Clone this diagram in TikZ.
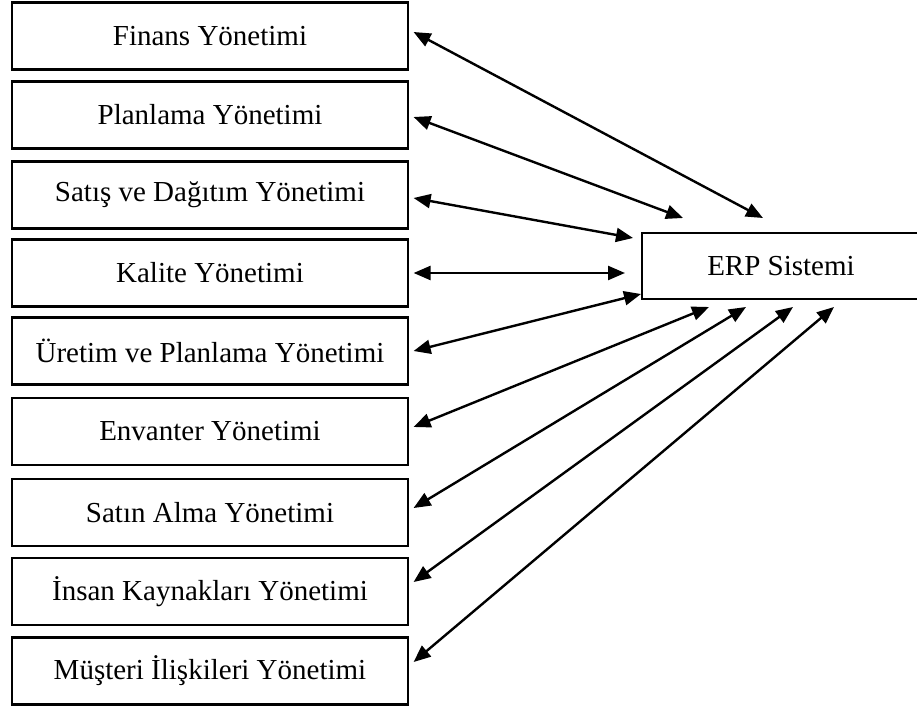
\documentclass[tikz,border=0pt]{standalone}
\usepackage{fontspec}
\setmainfont{Liberation Serif}
\usetikzlibrary{arrows.meta}
\begin{document}
\begin{tikzpicture}[x=0.5pt,y=-0.5pt,
  module/.style={draw, line width=1.1pt, rectangle, inner sep=0pt,
    minimum width=198pt, minimum height=33.5pt,
    font=\fontsize{14.5}{17}\selectfont},
  biarrow/.style={line width=1.2pt,
    {Triangle[length=8.5pt,width=7pt]}-{Triangle[length=8.5pt,width=7pt]}}]
\useasboundingbox (0,0) rectangle (917,706);

% management modules on the left
\node[module] (m1) at (210,36)    {Finans Yönetimi};
\node[module] (m2) at (210,115)   {Planlama Yönetimi};
\node[module] (m3) at (210,195)   {Satış ve Dağıtım Yönetimi};
\node[module] (m4) at (210,273)   {Kalite Yönetimi};
\node[module] (m5) at (210,351)   {Üretim ve Planlama Yönetimi};
\node[module] (m6) at (210,431.5) {Envanter Yönetimi};
\node[module] (m7) at (210,512.5) {Satın Alma Yönetimi};
\node[module] (m8) at (210,591.5) {İnsan Kaynakları Yönetimi};
\node[module] (m9) at (210,671)   {Müşteri İlişkileri Yönetimi};

% central system box (runs past the right edge)
\node[module, minimum width=139pt, minimum height=33pt] (erp) at (781,266) {ERP Sistemi};

% arrow ends near the ERP box
\coordinate (e1) at (763,218);
\coordinate (e2) at (683,218);
\coordinate (e3) at (633,238);
\coordinate (e4) at (625,273);
\coordinate (e5) at (641,294);
\coordinate (e6) at (709,307);
\coordinate (e7) at (746,307);
\coordinate (e8) at (793,307);
\coordinate (e9) at (834,307);

% two-way links
\draw[biarrow] ([xshift=2.25pt,yshift=2pt]m1.east)     -- (e1);
\draw[biarrow] ([xshift=2.25pt,yshift=-1pt]m2.east)    -- (e2);
\draw[biarrow] ([xshift=2.25pt,yshift=-1.5pt]m3.east)  -- (e3);
\draw[biarrow] ([xshift=2.25pt]m4.east)                -- (e4);
\draw[biarrow] ([xshift=2.25pt]m5.east)                -- (e5);
\draw[biarrow] ([xshift=2.25pt,yshift=2.25pt]m6.east)  -- (e6);
\draw[biarrow] ([xshift=2.25pt,yshift=2.25pt]m7.east)  -- (e7);
\draw[biarrow] ([xshift=2.25pt,yshift=4.75pt]m8.east)  -- (e8);
\draw[biarrow] ([xshift=2.25pt,yshift=4.5pt]m9.east)   -- (e9);
\end{tikzpicture}
\end{document}
